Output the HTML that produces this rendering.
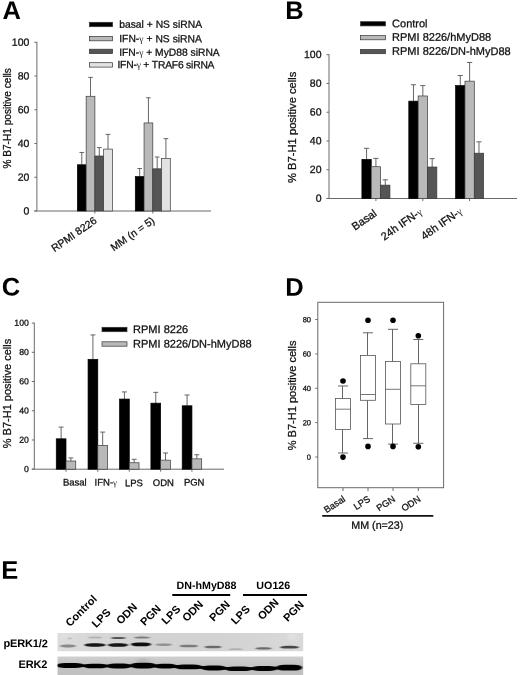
<!DOCTYPE html>
<html><head><meta charset="utf-8"><title>Figure</title><style>html,body{margin:0;padding:0;background:#fff;}body{width:520px;height:675px;overflow:hidden;font-family:"Liberation Sans",sans-serif;}svg{display:block;will-change:transform;transform:translateZ(0);}</style>
</head><body>
<svg width="520" height="675" viewBox="0 0 520 675" font-family="Liberation Sans, sans-serif">
<rect width="520" height="675" fill="#fff"/>
<text x="2.40" y="18.90" font-size="25.5" text-anchor="start" font-weight="bold" fill="#000" transform="rotate(0.05 2.40 18.90)" >A</text>
<line x1="36.90" y1="41.80" x2="36.90" y2="211.00" stroke="#6a6a6a" stroke-width="1"/>
<line x1="34.40" y1="211.00" x2="211.00" y2="211.00" stroke="#6a6a6a" stroke-width="1"/>
<line x1="34.40" y1="211.00" x2="36.90" y2="211.00" stroke="#6a6a6a" stroke-width="1"/>
<text x="29.40" y="214.40" font-size="10.5" text-anchor="end" font-weight="normal" fill="#111" transform="rotate(0.05 29.40 214.40)"  stroke="#111" stroke-width="0.28">0</text>
<line x1="34.40" y1="177.26" x2="36.90" y2="177.26" stroke="#6a6a6a" stroke-width="1"/>
<text x="29.40" y="180.66" font-size="10.5" text-anchor="end" font-weight="normal" fill="#111" transform="rotate(0.05 29.40 180.66)"  stroke="#111" stroke-width="0.28">20</text>
<line x1="34.40" y1="143.52" x2="36.90" y2="143.52" stroke="#6a6a6a" stroke-width="1"/>
<text x="29.40" y="146.92" font-size="10.5" text-anchor="end" font-weight="normal" fill="#111" transform="rotate(0.05 29.40 146.92)"  stroke="#111" stroke-width="0.28">40</text>
<line x1="34.40" y1="109.78" x2="36.90" y2="109.78" stroke="#6a6a6a" stroke-width="1"/>
<text x="29.40" y="113.18" font-size="10.5" text-anchor="end" font-weight="normal" fill="#111" transform="rotate(0.05 29.40 113.18)"  stroke="#111" stroke-width="0.28">60</text>
<line x1="34.40" y1="76.04" x2="36.90" y2="76.04" stroke="#6a6a6a" stroke-width="1"/>
<text x="29.40" y="79.44" font-size="10.5" text-anchor="end" font-weight="normal" fill="#111" transform="rotate(0.05 29.40 79.44)"  stroke="#111" stroke-width="0.28">80</text>
<line x1="34.40" y1="42.30" x2="36.90" y2="42.30" stroke="#6a6a6a" stroke-width="1"/>
<text x="29.40" y="45.70" font-size="10.5" text-anchor="end" font-weight="normal" fill="#111" transform="rotate(0.05 29.40 45.70)"  stroke="#111" stroke-width="0.28">100</text>
<text x="11.30" y="118.30" font-size="10.1" text-anchor="middle" font-weight="normal" fill="#111" transform="rotate(-90 11.30 118.30)"  stroke="#111" stroke-width="0.28">% B7-H1 positive cells</text>
<line x1="81.78" y1="164.78" x2="81.78" y2="152.46" stroke="#555" stroke-width="0.9"/>
<line x1="79.48" y1="152.46" x2="84.08" y2="152.46" stroke="#555" stroke-width="0.9"/>
<rect x="77.40" y="164.78" width="8.75" height="46.22" fill="#000" stroke="#000" stroke-width="0.7"/>
<line x1="90.53" y1="96.28" x2="90.53" y2="77.39" stroke="#555" stroke-width="0.9"/>
<line x1="88.23" y1="77.39" x2="92.83" y2="77.39" stroke="#555" stroke-width="0.9"/>
<rect x="86.15" y="96.28" width="8.75" height="114.72" fill="#b9b9b9" stroke="#3a3a3a" stroke-width="0.7"/>
<line x1="99.28" y1="156.00" x2="99.28" y2="147.57" stroke="#555" stroke-width="0.9"/>
<line x1="96.98" y1="147.57" x2="101.58" y2="147.57" stroke="#555" stroke-width="0.9"/>
<rect x="94.90" y="156.00" width="8.75" height="55.00" fill="#555" stroke="#3a3a3a" stroke-width="0.7"/>
<line x1="108.03" y1="149.09" x2="108.03" y2="134.41" stroke="#555" stroke-width="0.9"/>
<line x1="105.73" y1="134.41" x2="110.33" y2="134.41" stroke="#555" stroke-width="0.9"/>
<rect x="103.65" y="149.09" width="8.75" height="61.91" fill="#e2e2e2" stroke="#3a3a3a" stroke-width="0.7"/>
<line x1="94.90" y1="211.00" x2="94.90" y2="213.50" stroke="#6a6a6a" stroke-width="1"/>
<line x1="139.68" y1="176.59" x2="139.68" y2="168.49" stroke="#555" stroke-width="0.9"/>
<line x1="137.38" y1="168.49" x2="141.98" y2="168.49" stroke="#555" stroke-width="0.9"/>
<rect x="135.30" y="176.59" width="8.75" height="34.41" fill="#000" stroke="#000" stroke-width="0.7"/>
<line x1="148.43" y1="122.94" x2="148.43" y2="97.80" stroke="#555" stroke-width="0.9"/>
<line x1="146.12" y1="97.80" x2="150.73" y2="97.80" stroke="#555" stroke-width="0.9"/>
<rect x="144.05" y="122.94" width="8.75" height="88.06" fill="#b9b9b9" stroke="#3a3a3a" stroke-width="0.7"/>
<line x1="157.18" y1="168.82" x2="157.18" y2="157.02" stroke="#555" stroke-width="0.9"/>
<line x1="154.88" y1="157.02" x2="159.48" y2="157.02" stroke="#555" stroke-width="0.9"/>
<rect x="152.80" y="168.82" width="8.75" height="42.18" fill="#555" stroke="#3a3a3a" stroke-width="0.7"/>
<line x1="165.93" y1="158.37" x2="165.93" y2="138.63" stroke="#555" stroke-width="0.9"/>
<line x1="163.62" y1="138.63" x2="168.23" y2="138.63" stroke="#555" stroke-width="0.9"/>
<rect x="161.55" y="158.37" width="8.75" height="52.63" fill="#e2e2e2" stroke="#3a3a3a" stroke-width="0.7"/>
<line x1="152.80" y1="211.00" x2="152.80" y2="213.50" stroke="#6a6a6a" stroke-width="1"/>
<text x="97.50" y="222.20" font-size="10.5" text-anchor="end" font-weight="normal" fill="#111" transform="rotate(-35 97.50 222.20)"  stroke="#111" stroke-width="0.28">RPMI 8226</text>
<text x="155.50" y="222.20" font-size="10.5" text-anchor="end" font-weight="normal" fill="#111" transform="rotate(-35 155.50 222.20)"  stroke="#111" stroke-width="0.28">MM (n = 5)</text>
<rect x="89.4" y="22.30" width="23.2" height="4.4" fill="#000" stroke="#333" stroke-width="0.7"/>
<text x="119.20" y="27.70" font-size="10.3" text-anchor="start" font-weight="normal" fill="#111" transform="rotate(0.05 119.20 27.70)"  textLength="82.9" lengthAdjust="spacing" stroke="#111" stroke-width="0.28">basal + NS siRNA</text>
<rect x="89.4" y="36.40" width="23.2" height="4.4" fill="#b9b9b9" stroke="#333" stroke-width="0.7"/>
<text x="119.20" y="42.10" font-size="10.3" text-anchor="start" font-weight="normal" fill="#111" transform="rotate(0.05 119.20 42.10)"  textLength="82.7" lengthAdjust="spacing" stroke="#111" stroke-width="0.28">IFN-<tspan font-family="Liberation Serif, serif" style="font-size:0.93em" stroke="none" fill="#2a2a2a">&#947;</tspan> + NS siRNA</text>
<rect x="89.4" y="49.20" width="23.2" height="4.4" fill="#555" stroke="#333" stroke-width="0.7"/>
<text x="119.20" y="55.80" font-size="10.3" text-anchor="start" font-weight="normal" fill="#111" transform="rotate(0.05 119.20 55.80)"  textLength="100.5" lengthAdjust="spacing" stroke="#111" stroke-width="0.28">IFN-<tspan font-family="Liberation Serif, serif" style="font-size:0.93em" stroke="none" fill="#2a2a2a">&#947;</tspan> + MyD88 siRNA</text>
<rect x="89.4" y="62.70" width="23.2" height="4.4" fill="#e2e2e2" stroke="#333" stroke-width="0.7"/>
<text x="117.40" y="68.10" font-size="10.3" text-anchor="start" font-weight="normal" fill="#111" transform="rotate(0.05 117.40 68.10)"  textLength="97.1" lengthAdjust="spacing" stroke="#111" stroke-width="0.28">IFN-<tspan font-family="Liberation Serif, serif" style="font-size:0.93em" stroke="none" fill="#2a2a2a">&#947;</tspan> + TRAF6 siRNA</text>
<text x="285.20" y="18.90" font-size="25.5" text-anchor="start" font-weight="bold" fill="#000" transform="rotate(0.05 285.20 18.90)" >B</text>
<line x1="329.00" y1="54.20" x2="329.00" y2="198.50" stroke="#6a6a6a" stroke-width="1"/>
<line x1="326.50" y1="198.50" x2="517.00" y2="198.50" stroke="#6a6a6a" stroke-width="1"/>
<line x1="326.50" y1="198.50" x2="329.00" y2="198.50" stroke="#6a6a6a" stroke-width="1"/>
<text x="321.50" y="201.70" font-size="10.5" text-anchor="end" font-weight="normal" fill="#111" transform="rotate(0.05 321.50 201.70)"  stroke="#111" stroke-width="0.28">0</text>
<line x1="326.50" y1="169.74" x2="329.00" y2="169.74" stroke="#6a6a6a" stroke-width="1"/>
<text x="321.50" y="172.94" font-size="10.5" text-anchor="end" font-weight="normal" fill="#111" transform="rotate(0.05 321.50 172.94)"  stroke="#111" stroke-width="0.28">20</text>
<line x1="326.50" y1="140.98" x2="329.00" y2="140.98" stroke="#6a6a6a" stroke-width="1"/>
<text x="321.50" y="144.18" font-size="10.5" text-anchor="end" font-weight="normal" fill="#111" transform="rotate(0.05 321.50 144.18)"  stroke="#111" stroke-width="0.28">40</text>
<line x1="326.50" y1="112.22" x2="329.00" y2="112.22" stroke="#6a6a6a" stroke-width="1"/>
<text x="321.50" y="115.42" font-size="10.5" text-anchor="end" font-weight="normal" fill="#111" transform="rotate(0.05 321.50 115.42)"  stroke="#111" stroke-width="0.28">60</text>
<line x1="326.50" y1="83.46" x2="329.00" y2="83.46" stroke="#6a6a6a" stroke-width="1"/>
<text x="321.50" y="86.66" font-size="10.5" text-anchor="end" font-weight="normal" fill="#111" transform="rotate(0.05 321.50 86.66)"  stroke="#111" stroke-width="0.28">80</text>
<line x1="326.50" y1="54.70" x2="329.00" y2="54.70" stroke="#6a6a6a" stroke-width="1"/>
<text x="321.50" y="57.90" font-size="10.5" text-anchor="end" font-weight="normal" fill="#111" transform="rotate(0.05 321.50 57.90)"  stroke="#111" stroke-width="0.28">100</text>
<text x="296.00" y="127.30" font-size="11.2" text-anchor="middle" font-weight="normal" fill="#111" transform="rotate(-90 296.00 127.30)"  stroke="#111" stroke-width="0.28">% B7-H1 positive cells</text>
<line x1="366.57" y1="159.39" x2="366.57" y2="148.31" stroke="#555" stroke-width="0.9"/>
<line x1="363.97" y1="148.31" x2="369.18" y2="148.31" stroke="#555" stroke-width="0.9"/>
<rect x="361.90" y="159.39" width="9.35" height="39.11" fill="#000" stroke="#000" stroke-width="0.7"/>
<line x1="375.93" y1="166.72" x2="375.93" y2="158.38" stroke="#555" stroke-width="0.9"/>
<line x1="373.32" y1="158.38" x2="378.53" y2="158.38" stroke="#555" stroke-width="0.9"/>
<rect x="371.25" y="166.72" width="9.35" height="31.78" fill="#b9b9b9" stroke="#3a3a3a" stroke-width="0.7"/>
<line x1="385.27" y1="185.13" x2="385.27" y2="179.81" stroke="#555" stroke-width="0.9"/>
<line x1="382.67" y1="179.81" x2="387.88" y2="179.81" stroke="#555" stroke-width="0.9"/>
<rect x="380.60" y="185.13" width="9.35" height="13.37" fill="#555" stroke="#3a3a3a" stroke-width="0.7"/>
<line x1="375.92" y1="198.50" x2="375.92" y2="201.00" stroke="#6a6a6a" stroke-width="1"/>
<line x1="413.48" y1="101.15" x2="413.48" y2="84.75" stroke="#555" stroke-width="0.9"/>
<line x1="410.88" y1="84.75" x2="416.08" y2="84.75" stroke="#555" stroke-width="0.9"/>
<rect x="408.80" y="101.15" width="9.35" height="97.35" fill="#000" stroke="#000" stroke-width="0.7"/>
<line x1="422.83" y1="95.97" x2="422.83" y2="85.62" stroke="#555" stroke-width="0.9"/>
<line x1="420.23" y1="85.62" x2="425.43" y2="85.62" stroke="#555" stroke-width="0.9"/>
<rect x="418.15" y="95.97" width="9.35" height="102.53" fill="#b9b9b9" stroke="#3a3a3a" stroke-width="0.7"/>
<line x1="432.18" y1="167.01" x2="432.18" y2="158.67" stroke="#555" stroke-width="0.9"/>
<line x1="429.57" y1="158.67" x2="434.78" y2="158.67" stroke="#555" stroke-width="0.9"/>
<rect x="427.50" y="167.01" width="9.35" height="31.49" fill="#555" stroke="#3a3a3a" stroke-width="0.7"/>
<line x1="422.82" y1="198.50" x2="422.82" y2="201.00" stroke="#6a6a6a" stroke-width="1"/>
<line x1="460.28" y1="85.62" x2="460.28" y2="75.55" stroke="#555" stroke-width="0.9"/>
<line x1="457.68" y1="75.55" x2="462.88" y2="75.55" stroke="#555" stroke-width="0.9"/>
<rect x="455.60" y="85.62" width="9.35" height="112.88" fill="#000" stroke="#000" stroke-width="0.7"/>
<line x1="469.63" y1="81.16" x2="469.63" y2="62.47" stroke="#555" stroke-width="0.9"/>
<line x1="467.03" y1="62.47" x2="472.23" y2="62.47" stroke="#555" stroke-width="0.9"/>
<rect x="464.95" y="81.16" width="9.35" height="117.34" fill="#b9b9b9" stroke="#3a3a3a" stroke-width="0.7"/>
<line x1="478.98" y1="153.20" x2="478.98" y2="141.84" stroke="#555" stroke-width="0.9"/>
<line x1="476.38" y1="141.84" x2="481.58" y2="141.84" stroke="#555" stroke-width="0.9"/>
<rect x="474.30" y="153.20" width="9.35" height="45.30" fill="#555" stroke="#3a3a3a" stroke-width="0.7"/>
<line x1="469.62" y1="198.50" x2="469.62" y2="201.00" stroke="#6a6a6a" stroke-width="1"/>
<text x="377.50" y="215.00" font-size="11" text-anchor="end" font-weight="normal" fill="#111" transform="rotate(-35 377.50 215.00)"  stroke="#111" stroke-width="0.28">Basal</text>
<text x="423.00" y="213.50" font-size="11" text-anchor="end" font-weight="normal" fill="#111" transform="rotate(-35 423.00 213.50)"  stroke="#111" stroke-width="0.28">24h IFN-<tspan font-family="Liberation Serif, serif" style="font-size:0.93em" stroke="none" fill="#2a2a2a">&#947;</tspan></text>
<text x="463.00" y="213.00" font-size="11" text-anchor="end" font-weight="normal" fill="#111" transform="rotate(-35 463.00 213.00)"  stroke="#111" stroke-width="0.28">48h IFN-<tspan font-family="Liberation Serif, serif" style="font-size:0.93em" stroke="none" fill="#2a2a2a">&#947;</tspan></text>
<rect x="360.5" y="21.70" width="25" height="4.2" fill="#000" stroke="#333" stroke-width="0.7"/>
<text x="392.10" y="27.30" font-size="11" text-anchor="start" font-weight="normal" fill="#111" transform="rotate(0.05 392.10 27.30)"  stroke="#111" stroke-width="0.28">Control</text>
<rect x="360.5" y="35.60" width="25" height="4.2" fill="#b9b9b9" stroke="#333" stroke-width="0.7"/>
<text x="392.10" y="40.70" font-size="11" text-anchor="start" font-weight="normal" fill="#111" transform="rotate(0.05 392.10 40.70)"  stroke="#111" stroke-width="0.28">RPMI 8226/hMyD88</text>
<rect x="360.5" y="49.50" width="25" height="4.2" fill="#555" stroke="#333" stroke-width="0.7"/>
<text x="392.10" y="54.80" font-size="11" text-anchor="start" font-weight="normal" fill="#111" transform="rotate(0.05 392.10 54.80)"  stroke="#111" stroke-width="0.28">RPMI 8226/DN-hMyD88</text>
<text x="1.80" y="295.50" font-size="25.5" text-anchor="start" font-weight="bold" fill="#000" transform="rotate(0.05 1.80 295.50)" >C</text>
<line x1="34.30" y1="322.60" x2="34.30" y2="469.20" stroke="#6a6a6a" stroke-width="1"/>
<line x1="31.80" y1="469.20" x2="224.00" y2="469.20" stroke="#6a6a6a" stroke-width="1"/>
<line x1="31.80" y1="469.20" x2="34.30" y2="469.20" stroke="#6a6a6a" stroke-width="1"/>
<text x="28.80" y="471.90" font-size="8.7" text-anchor="end" font-weight="normal" fill="#111" transform="rotate(0.05 28.80 471.90)"  stroke="#111" stroke-width="0.28">0</text>
<line x1="31.80" y1="439.98" x2="34.30" y2="439.98" stroke="#6a6a6a" stroke-width="1"/>
<text x="28.80" y="442.68" font-size="8.7" text-anchor="end" font-weight="normal" fill="#111" transform="rotate(0.05 28.80 442.68)"  stroke="#111" stroke-width="0.28">20</text>
<line x1="31.80" y1="410.76" x2="34.30" y2="410.76" stroke="#6a6a6a" stroke-width="1"/>
<text x="28.80" y="413.46" font-size="8.7" text-anchor="end" font-weight="normal" fill="#111" transform="rotate(0.05 28.80 413.46)"  stroke="#111" stroke-width="0.28">40</text>
<line x1="31.80" y1="381.54" x2="34.30" y2="381.54" stroke="#6a6a6a" stroke-width="1"/>
<text x="28.80" y="384.24" font-size="8.7" text-anchor="end" font-weight="normal" fill="#111" transform="rotate(0.05 28.80 384.24)"  stroke="#111" stroke-width="0.28">60</text>
<line x1="31.80" y1="352.32" x2="34.30" y2="352.32" stroke="#6a6a6a" stroke-width="1"/>
<text x="28.80" y="355.02" font-size="8.7" text-anchor="end" font-weight="normal" fill="#111" transform="rotate(0.05 28.80 355.02)"  stroke="#111" stroke-width="0.28">80</text>
<line x1="31.80" y1="323.10" x2="34.30" y2="323.10" stroke="#6a6a6a" stroke-width="1"/>
<text x="28.80" y="325.80" font-size="8.7" text-anchor="end" font-weight="normal" fill="#111" transform="rotate(0.05 28.80 325.80)"  stroke="#111" stroke-width="0.28">100</text>
<text x="11.00" y="393.50" font-size="11" text-anchor="middle" font-weight="normal" fill="#111" transform="rotate(-90 11.00 393.50)"  stroke="#111" stroke-width="0.28">% B7-H1 positive cells</text>
<line x1="61.12" y1="438.81" x2="61.12" y2="427.12" stroke="#555" stroke-width="0.9"/>
<line x1="58.62" y1="427.12" x2="63.62" y2="427.12" stroke="#555" stroke-width="0.9"/>
<rect x="56.25" y="438.81" width="9.75" height="30.39" fill="#000" stroke="#000" stroke-width="0.7"/>
<line x1="70.88" y1="461.02" x2="70.88" y2="457.95" stroke="#555" stroke-width="0.9"/>
<line x1="68.38" y1="457.95" x2="73.38" y2="457.95" stroke="#555" stroke-width="0.9"/>
<rect x="66.00" y="461.02" width="9.75" height="8.18" fill="#b9b9b9" stroke="#3a3a3a" stroke-width="0.7"/>
<line x1="66.00" y1="469.20" x2="66.00" y2="471.70" stroke="#6a6a6a" stroke-width="1"/>
<line x1="92.92" y1="359.33" x2="92.92" y2="334.93" stroke="#555" stroke-width="0.9"/>
<line x1="90.42" y1="334.93" x2="95.42" y2="334.93" stroke="#555" stroke-width="0.9"/>
<rect x="88.05" y="359.33" width="9.75" height="109.87" fill="#000" stroke="#000" stroke-width="0.7"/>
<line x1="102.67" y1="445.39" x2="102.67" y2="432.09" stroke="#555" stroke-width="0.9"/>
<line x1="100.17" y1="432.09" x2="105.17" y2="432.09" stroke="#555" stroke-width="0.9"/>
<rect x="97.80" y="445.39" width="9.75" height="23.81" fill="#b9b9b9" stroke="#3a3a3a" stroke-width="0.7"/>
<line x1="97.80" y1="469.20" x2="97.80" y2="471.70" stroke="#6a6a6a" stroke-width="1"/>
<line x1="124.42" y1="399.07" x2="124.42" y2="391.91" stroke="#555" stroke-width="0.9"/>
<line x1="121.92" y1="391.91" x2="126.92" y2="391.91" stroke="#555" stroke-width="0.9"/>
<rect x="119.55" y="399.07" width="9.75" height="70.13" fill="#000" stroke="#000" stroke-width="0.7"/>
<line x1="134.18" y1="462.77" x2="134.18" y2="459.27" stroke="#555" stroke-width="0.9"/>
<line x1="131.68" y1="459.27" x2="136.68" y2="459.27" stroke="#555" stroke-width="0.9"/>
<rect x="129.30" y="462.77" width="9.75" height="6.43" fill="#b9b9b9" stroke="#3a3a3a" stroke-width="0.7"/>
<line x1="129.30" y1="469.20" x2="129.30" y2="471.70" stroke="#6a6a6a" stroke-width="1"/>
<line x1="155.78" y1="403.16" x2="155.78" y2="392.35" stroke="#555" stroke-width="0.9"/>
<line x1="153.28" y1="392.35" x2="158.28" y2="392.35" stroke="#555" stroke-width="0.9"/>
<rect x="150.90" y="403.16" width="9.75" height="66.04" fill="#000" stroke="#000" stroke-width="0.7"/>
<line x1="165.53" y1="460.14" x2="165.53" y2="452.98" stroke="#555" stroke-width="0.9"/>
<line x1="163.03" y1="452.98" x2="168.03" y2="452.98" stroke="#555" stroke-width="0.9"/>
<rect x="160.65" y="460.14" width="9.75" height="9.06" fill="#b9b9b9" stroke="#3a3a3a" stroke-width="0.7"/>
<line x1="160.65" y1="469.20" x2="160.65" y2="471.70" stroke="#6a6a6a" stroke-width="1"/>
<line x1="187.07" y1="405.79" x2="187.07" y2="394.98" stroke="#555" stroke-width="0.9"/>
<line x1="184.57" y1="394.98" x2="189.57" y2="394.98" stroke="#555" stroke-width="0.9"/>
<rect x="182.20" y="405.79" width="9.75" height="63.41" fill="#000" stroke="#000" stroke-width="0.7"/>
<line x1="196.82" y1="458.83" x2="196.82" y2="454.74" stroke="#555" stroke-width="0.9"/>
<line x1="194.32" y1="454.74" x2="199.32" y2="454.74" stroke="#555" stroke-width="0.9"/>
<rect x="191.95" y="458.83" width="9.75" height="10.37" fill="#b9b9b9" stroke="#3a3a3a" stroke-width="0.7"/>
<line x1="191.95" y1="469.20" x2="191.95" y2="471.70" stroke="#6a6a6a" stroke-width="1"/>
<text x="74.80" y="485.40" font-size="9.5" text-anchor="middle" font-weight="normal" fill="#111" transform="rotate(0.05 74.80 485.40)"  stroke="#111" stroke-width="0.28">Basal</text>
<text x="105.80" y="485.40" font-size="9.5" text-anchor="middle" font-weight="normal" fill="#111" transform="rotate(0.05 105.80 485.40)"  stroke="#111" stroke-width="0.28">IFN-<tspan font-family="Liberation Serif, serif" style="font-size:0.93em" stroke="none" fill="#2a2a2a">&#947;</tspan></text>
<text x="133.90" y="486.20" font-size="9.5" text-anchor="middle" font-weight="normal" fill="#111" transform="rotate(0.05 133.90 486.20)"  stroke="#111" stroke-width="0.28">LPS</text>
<text x="163.40" y="485.90" font-size="9.5" text-anchor="middle" font-weight="normal" fill="#111" transform="rotate(0.05 163.40 485.90)"  stroke="#111" stroke-width="0.28">ODN</text>
<text x="194.20" y="485.60" font-size="9.5" text-anchor="middle" font-weight="normal" fill="#111" transform="rotate(0.05 194.20 485.60)"  stroke="#111" stroke-width="0.28">PGN</text>
<rect x="102" y="327.30" width="25" height="4.4" fill="#000" stroke="#333" stroke-width="0.7"/>
<text x="133.10" y="332.90" font-size="11" text-anchor="start" font-weight="normal" fill="#111" transform="rotate(0.05 133.10 332.90)"  stroke="#111" stroke-width="0.28">RPMI 8226</text>
<rect x="102" y="341.80" width="25" height="4.4" fill="#b9b9b9" stroke="#333" stroke-width="0.7"/>
<text x="133.10" y="347.40" font-size="11" text-anchor="start" font-weight="normal" fill="#111" transform="rotate(0.05 133.10 347.40)"  stroke="#111" stroke-width="0.28">RPMI 8226/DN-hMyD88</text>
<text x="285.20" y="295.80" font-size="25.5" text-anchor="start" font-weight="bold" fill="#000" transform="rotate(0.05 285.20 295.80)" >D</text>
<rect x="317.8" y="302.3" width="125.80" height="185.40" fill="none" stroke="#6a6a6a" stroke-width="1"/>
<line x1="315.30" y1="457.00" x2="317.80" y2="457.00" stroke="#6a6a6a" stroke-width="1"/>
<text x="311.00" y="459.70" font-size="7.5" text-anchor="end" font-weight="normal" fill="#111" transform="rotate(0.05 311.00 459.70)"  stroke="#111" stroke-width="0.28">0</text>
<line x1="315.30" y1="422.62" x2="317.80" y2="422.62" stroke="#6a6a6a" stroke-width="1"/>
<text x="311.00" y="425.32" font-size="7.5" text-anchor="end" font-weight="normal" fill="#111" transform="rotate(0.05 311.00 425.32)"  stroke="#111" stroke-width="0.28">20</text>
<line x1="315.30" y1="388.25" x2="317.80" y2="388.25" stroke="#6a6a6a" stroke-width="1"/>
<text x="311.00" y="390.95" font-size="7.5" text-anchor="end" font-weight="normal" fill="#111" transform="rotate(0.05 311.00 390.95)"  stroke="#111" stroke-width="0.28">40</text>
<line x1="315.30" y1="353.88" x2="317.80" y2="353.88" stroke="#6a6a6a" stroke-width="1"/>
<text x="311.00" y="356.57" font-size="7.5" text-anchor="end" font-weight="normal" fill="#111" transform="rotate(0.05 311.00 356.57)"  stroke="#111" stroke-width="0.28">60</text>
<line x1="315.30" y1="319.50" x2="317.80" y2="319.50" stroke="#6a6a6a" stroke-width="1"/>
<text x="311.00" y="322.20" font-size="7.5" text-anchor="end" font-weight="normal" fill="#111" transform="rotate(0.05 311.00 322.20)"  stroke="#111" stroke-width="0.28">80</text>
<text x="296.00" y="395.40" font-size="11.05" text-anchor="middle" font-weight="normal" fill="#111" transform="rotate(-90 296.00 395.40)"  stroke="#111" stroke-width="0.28">% B7-H1 positive cells</text>
<line x1="342.50" y1="398.50" x2="342.50" y2="386.00" stroke="#555" stroke-width="0.9"/>
<line x1="338.00" y1="386.00" x2="348.00" y2="386.00" stroke="#555" stroke-width="0.9"/>
<line x1="342.50" y1="429.40" x2="342.50" y2="453.00" stroke="#555" stroke-width="0.9"/>
<line x1="338.00" y1="453.00" x2="348.00" y2="453.00" stroke="#555" stroke-width="0.9"/>
<rect x="335.50" y="398.50" width="15.00" height="30.90" fill="#fff" stroke="#555" stroke-width="0.8"/>
<line x1="335.50" y1="409.20" x2="350.50" y2="409.20" stroke="#555" stroke-width="0.8"/>
<circle cx="343.00" cy="381.00" r="2.8" fill="#000"/>
<circle cx="343.00" cy="457.10" r="2.8" fill="#000"/>
<line x1="343.00" y1="487.70" x2="343.00" y2="491.00" stroke="#6a6a6a" stroke-width="1"/>
<line x1="367.50" y1="355.50" x2="367.50" y2="332.80" stroke="#555" stroke-width="0.9"/>
<line x1="363.00" y1="332.80" x2="373.00" y2="332.80" stroke="#555" stroke-width="0.9"/>
<line x1="367.50" y1="400.30" x2="367.50" y2="438.60" stroke="#555" stroke-width="0.9"/>
<line x1="363.00" y1="438.60" x2="373.00" y2="438.60" stroke="#555" stroke-width="0.9"/>
<rect x="360.50" y="355.50" width="15.00" height="44.80" fill="#fff" stroke="#555" stroke-width="0.8"/>
<line x1="360.50" y1="394.50" x2="375.50" y2="394.50" stroke="#555" stroke-width="0.8"/>
<circle cx="368.00" cy="320.30" r="2.8" fill="#000"/>
<circle cx="368.00" cy="446.40" r="2.8" fill="#000"/>
<line x1="368.00" y1="487.70" x2="368.00" y2="491.00" stroke="#6a6a6a" stroke-width="1"/>
<line x1="392.50" y1="361.50" x2="392.50" y2="329.30" stroke="#555" stroke-width="0.9"/>
<line x1="388.00" y1="329.30" x2="398.00" y2="329.30" stroke="#555" stroke-width="0.9"/>
<line x1="392.50" y1="424.00" x2="392.50" y2="444.10" stroke="#555" stroke-width="0.9"/>
<line x1="388.00" y1="444.10" x2="398.00" y2="444.10" stroke="#555" stroke-width="0.9"/>
<rect x="385.50" y="361.50" width="15.00" height="62.50" fill="#fff" stroke="#555" stroke-width="0.8"/>
<line x1="385.50" y1="389.30" x2="400.50" y2="389.30" stroke="#555" stroke-width="0.8"/>
<circle cx="393.00" cy="320.30" r="2.8" fill="#000"/>
<circle cx="393.00" cy="446.40" r="2.8" fill="#000"/>
<line x1="393.00" y1="487.70" x2="393.00" y2="491.00" stroke="#6a6a6a" stroke-width="1"/>
<line x1="418.50" y1="363.80" x2="418.50" y2="339.50" stroke="#555" stroke-width="0.9"/>
<line x1="413.30" y1="339.50" x2="423.30" y2="339.50" stroke="#555" stroke-width="0.9"/>
<line x1="418.50" y1="404.40" x2="418.50" y2="443.30" stroke="#555" stroke-width="0.9"/>
<line x1="413.30" y1="443.30" x2="423.30" y2="443.30" stroke="#555" stroke-width="0.9"/>
<rect x="410.80" y="363.80" width="15.00" height="40.60" fill="#fff" stroke="#555" stroke-width="0.8"/>
<line x1="410.80" y1="385.80" x2="425.80" y2="385.80" stroke="#555" stroke-width="0.8"/>
<circle cx="418.30" cy="335.80" r="2.8" fill="#000"/>
<circle cx="418.30" cy="446.70" r="2.8" fill="#000"/>
<line x1="418.30" y1="487.70" x2="418.30" y2="491.00" stroke="#6a6a6a" stroke-width="1"/>
<text x="346.00" y="500.60" font-size="9.3" text-anchor="end" font-weight="normal" fill="#111" transform="rotate(-33 346.00 500.60)"  stroke="#111" stroke-width="0.28">Basal</text>
<text x="371.00" y="500.60" font-size="9.3" text-anchor="end" font-weight="normal" fill="#111" transform="rotate(-33 371.00 500.60)"  stroke="#111" stroke-width="0.28">LPS</text>
<text x="396.00" y="500.60" font-size="9.3" text-anchor="end" font-weight="normal" fill="#111" transform="rotate(-33 396.00 500.60)"  stroke="#111" stroke-width="0.28">PGN</text>
<text x="421.30" y="500.60" font-size="9.3" text-anchor="end" font-weight="normal" fill="#111" transform="rotate(-33 421.30 500.60)"  stroke="#111" stroke-width="0.28">ODN</text>
<line x1="322.20" y1="515.80" x2="433.30" y2="515.80" stroke="#111" stroke-width="1.8"/>
<text x="377.30" y="528.80" font-size="10.7" text-anchor="middle" font-weight="normal" fill="#111" transform="rotate(0.05 377.30 528.80)"  stroke="#111" stroke-width="0.28">MM (n=23)</text>
<text x="1.30" y="578.70" font-size="25.5" text-anchor="start" font-weight="bold" fill="#000" transform="rotate(0.05 1.30 578.70)" >E</text>
<text x="3.40" y="647.10" font-size="11" text-anchor="start" font-weight="bold" fill="#000" transform="rotate(0.05 3.40 647.10)"  textLength="44.4" lengthAdjust="spacing">pERK1/2</text>
<text x="18.60" y="668.00" font-size="11" text-anchor="start" font-weight="bold" fill="#000" transform="rotate(0.05 18.60 668.00)"  textLength="28.7" lengthAdjust="spacing">ERK2</text>
<text x="206.50" y="589.00" font-size="10.7" text-anchor="middle" font-weight="bold" fill="#000" transform="rotate(0.05 206.50 589.00)" >DN-hMyD88</text>
<text x="273.30" y="589.00" font-size="10.7" text-anchor="middle" font-weight="bold" fill="#000" transform="rotate(0.05 273.30 589.00)" >UO126</text>
<line x1="172.30" y1="595.00" x2="230.20" y2="595.00" stroke="#000" stroke-width="1.8"/>
<line x1="243.00" y1="595.00" x2="307.00" y2="595.00" stroke="#000" stroke-width="1.8"/>
<text x="70.00" y="627.30" font-size="11" text-anchor="start" font-weight="bold" fill="#000" transform="rotate(-45 70.00 627.30)" >Control</text>
<text x="96.20" y="628.30" font-size="11" text-anchor="start" font-weight="bold" fill="#000" transform="rotate(-45 96.20 628.30)" >LPS</text>
<text x="120.70" y="625.00" font-size="11" text-anchor="start" font-weight="bold" fill="#000" transform="rotate(-45 120.70 625.00)" >ODN</text>
<text x="144.70" y="626.30" font-size="11" text-anchor="start" font-weight="bold" fill="#000" transform="rotate(-45 144.70 626.30)" >PGN</text>
<text x="166.00" y="625.00" font-size="11" text-anchor="start" font-weight="bold" fill="#000" transform="rotate(-45 166.00 625.00)" >LPS</text>
<text x="186.70" y="622.30" font-size="11" text-anchor="start" font-weight="bold" fill="#000" transform="rotate(-45 186.70 622.30)" >ODN</text>
<text x="213.70" y="622.00" font-size="11" text-anchor="start" font-weight="bold" fill="#000" transform="rotate(-45 213.70 622.00)" >PGN</text>
<text x="235.50" y="625.00" font-size="11" text-anchor="start" font-weight="bold" fill="#000" transform="rotate(-45 235.50 625.00)" >LPS</text>
<text x="262.20" y="620.50" font-size="11" text-anchor="start" font-weight="bold" fill="#000" transform="rotate(-45 262.20 620.50)" >ODN</text>
<text x="287.70" y="622.20" font-size="11" text-anchor="start" font-weight="bold" fill="#000" transform="rotate(-45 287.70 622.20)" >PGN</text>
<defs><filter id="b1" x="-30%" y="-300%" width="160%" height="700%"><feGaussianBlur stdDeviation="1.1 0.6"/></filter><filter id="b2" x="-30%" y="-300%" width="160%" height="700%"><feGaussianBlur stdDeviation="0.9 0.5"/></filter><filter id="b3" x="-50%" y="-300%" width="200%" height="700%"><feGaussianBlur stdDeviation="2.5 1.6"/></filter><linearGradient id="g1" x1="0" y1="0" x2="1" y2="0"><stop offset="0" stop-color="#dcdcdc"/><stop offset="0.35" stop-color="#d2d2d2"/><stop offset="0.7" stop-color="#d3d3d3"/><stop offset="1" stop-color="#d9d9d9"/></linearGradient><linearGradient id="g2" x1="0" y1="0" x2="0" y2="1"><stop offset="0" stop-color="#d0d0d0"/><stop offset="0.4" stop-color="#c4c4c4"/><stop offset="1" stop-color="#c0c0c0"/></linearGradient><clipPath id="c1"><rect x="57.5" y="633" width="245.7" height="18.2"/></clipPath><clipPath id="c2"><rect x="57.5" y="656.5" width="245.7" height="18.5"/></clipPath></defs>
<rect x="57.5" y="633" width="245.7" height="18.2" fill="url(#g1)"/>
<rect x="57.5" y="656.5" width="245.7" height="18.5" fill="url(#g2)"/>
<g clip-path="url(#c1)">
<g filter="url(#b3)"><ellipse cx="292" cy="637" rx="4" ry="3.5" fill="#e6e6e6" opacity="0.8"/><ellipse cx="66" cy="636" rx="6" ry="2" fill="#e2e2e2" opacity="0.8"/></g>
<g filter="url(#b1)">
<rect x="60.00" y="644.50" width="16.00" height="3.00" rx="5.76" ry="1.50" fill="#555" opacity="0.62"/>
<rect x="84.50" y="643.35" width="21.00" height="3.30" rx="7.56" ry="1.65" fill="#151515" opacity="1"/>
<rect x="108.00" y="643.30" width="20.00" height="3.40" rx="7.20" ry="1.70" fill="#151515" opacity="1"/>
<rect x="131.00" y="642.55" width="20.00" height="3.70" rx="7.20" ry="1.85" fill="#101010" opacity="1"/>
<rect x="155.50" y="643.50" width="16.50" height="2.40" rx="5.94" ry="1.20" fill="#666" opacity="0.6"/>
<rect x="179.50" y="644.75" width="18.50" height="2.50" rx="6.66" ry="1.25" fill="#444" opacity="0.62"/>
<rect x="204.50" y="645.70" width="17.00" height="2.60" rx="6.12" ry="1.30" fill="#3a3a3a" opacity="0.68"/>
<rect x="229.00" y="648.30" width="13.50" height="1.80" rx="4.86" ry="0.90" fill="#888" opacity="0.45"/>
<rect x="255.50" y="647.20" width="16.00" height="2.40" rx="5.76" ry="1.20" fill="#3a3a3a" opacity="0.68"/>
<rect x="280.00" y="645.80" width="19.00" height="2.80" rx="6.84" ry="1.40" fill="#222" opacity="0.8"/>
<rect x="88.00" y="636.60" width="14.00" height="2.00" rx="5.04" ry="1.00" fill="#777" opacity="0.38"/>
<rect x="111.00" y="636.90" width="14.50" height="2.20" rx="5.22" ry="1.10" fill="#2a2a2a" opacity="0.75"/>
<rect x="134.00" y="636.60" width="16.00" height="2.00" rx="5.76" ry="1.00" fill="#444" opacity="0.6"/>
<circle cx="69.5" cy="638.3" r="0.9" fill="#666" opacity="0.7"/>
</g></g>
<g clip-path="url(#c2)">
<g filter="url(#b3)"><ellipse cx="143" cy="660.6" rx="7" ry="1.3" fill="#888" opacity="0.55"/></g>
<g filter="url(#b2)">
<rect x="56.20" y="663.05" width="28.10" height="4.90" rx="9.01" ry="2.45" fill="#050505"/>
<rect x="83.70" y="663.65" width="23.60" height="4.70" rx="7.48" ry="2.35" fill="#050505"/>
<rect x="106.70" y="663.55" width="24.60" height="4.90" rx="7.82" ry="2.45" fill="#050505"/>
<rect x="130.20" y="662.75" width="26.10" height="5.70" rx="8.33" ry="2.85" fill="#050505"/>
<rect x="154.20" y="663.85" width="22.60" height="4.70" rx="7.14" ry="2.35" fill="#050505"/>
<rect x="174.70" y="664.45" width="27.60" height="4.90" rx="8.84" ry="2.45" fill="#050505"/>
<rect x="201.20" y="665.55" width="25.10" height="4.90" rx="7.99" ry="2.45" fill="#050505"/>
<rect x="225.20" y="666.50" width="27.10" height="4.60" rx="8.67" ry="2.30" fill="#050505"/>
<rect x="251.20" y="666.05" width="26.10" height="4.90" rx="8.33" ry="2.45" fill="#050505"/>
<rect x="276.20" y="664.65" width="26.10" height="5.90" rx="8.33" ry="2.95" fill="#050505"/>
<polygon points="70.2,664.2 95.5,664.7 119.0,664.7 143.2,664.3 165.5,664.9 188.5,665.6 213.8,666.7 238.8,667.5 264.2,667.2 289.2,666.3 289.2,668.9 264.2,669.8 238.8,670.1 213.8,669.3 188.5,668.2 165.5,667.5 143.2,666.9 119.0,667.3 95.5,667.3 70.2,666.8" fill="#050505"/>
</g></g>
</svg></body></html>
